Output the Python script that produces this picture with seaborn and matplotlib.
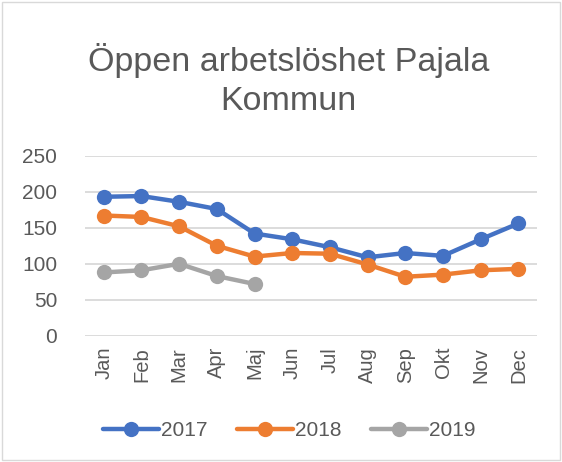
import pandas as pd
import matplotlib.pyplot as plt
import seaborn as sns
from matplotlib.patches import Rectangle

months = ['Jan', 'Feb', 'Mar', 'Apr', 'Maj', 'Jun', 'Jul', 'Aug', 'Sep', 'Okt', 'Nov', 'Dec']
v2017 = [193, 194, 186, 176, 142, 134, 123, 109, 115, 111, 134, 156]
v2018 = [167, 165, 152, 125, 110, 115, 114, 99, 82, 85, 91, 93]
v2019 = [88, 91, 100, 83, 72]

colors = {'2017': '#4472C4', '2018': '#ED7D31', '2019': '#A5A5A5'}

rows = []
for year, vals in [('2017', v2017), ('2018', v2018), ('2019', v2019)]:
    for m, v in zip(months, vals):
        rows.append({'month': m, 'value': v, 'year': year})
df = pd.DataFrame(rows)
df['month'] = pd.Categorical(df['month'], categories=months, ordered=True)
df['x'] = df['month'].cat.codes

sns.set_style('white')
plt.rcParams['font.family'] = ['Liberation Sans', 'DejaVu Sans']

fig = plt.figure(figsize=(5.62, 4.62), dpi=100)
ax = fig.add_axes([0.151, 0.273, 0.805, 0.390])

sns.lineplot(data=df, x='x', y='value', hue='year', palette=colors,
             marker='o', markersize=11, markeredgewidth=0, linewidth=3.2,
             ax=ax, legend=False)

ax.set_xlim(-0.5, 11.5)
ax.set_ylim(0, 250)
ax.set_yticks([0, 50, 100, 150, 200, 250])
ax.set_xticks(range(len(months)))
ax.set_xticklabels(months, rotation=90, fontsize=14.5, color='#595959')
ax.tick_params(axis='y', labelsize=15, labelcolor='#595959', length=0, pad=20)
ax.tick_params(axis='x', length=0, pad=8)
ax.yaxis.grid(True, color='#D9D9D9', linewidth=1.3)
ax.set_xlabel('')
ax.set_ylabel('')
for s in ax.spines.values():
    s.set_visible(False)

fig.text(0.514, 0.87, 'Öppen arbetslöshet Pajala', ha='center', va='center',
         fontsize=24.5, color='#595959')
fig.text(0.514, 0.78, 'Kommun', ha='center', va='center',
         fontsize=24.5, color='#595959')

handles = [plt.Line2D([], [], color=colors[y], marker='o', markersize=11,
                      markeredgewidth=0, linewidth=3.2) for y in ['2017', '2018', '2019']]
leg = fig.legend(handles, ['2017', '2018', '2019'], loc='center', ncol=3,
                 bbox_to_anchor=(0.515, 0.068), frameon=False, fontsize=15,
                 handlelength=2.7, handletextpad=0.1, columnspacing=1.4)
for t in leg.get_texts():
    t.set_color('#595959')

fig.patches.append(Rectangle((0.004, 0.004), 0.992, 0.992, transform=fig.transFigure,
                             fill=False, edgecolor='#D9D9D9', linewidth=1))

fig.savefig('out.png', dpi=100)
